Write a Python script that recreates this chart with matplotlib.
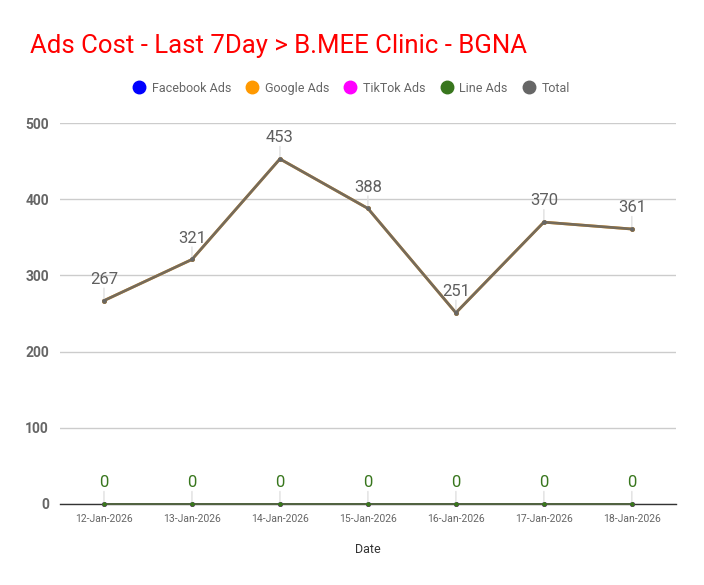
import matplotlib
matplotlib.use("Agg")
import matplotlib.pyplot as plt
from matplotlib.lines import Line2D

plt.rcParams['font.family'] = ['Roboto', 'DejaVu Sans']

dates = ["12-Jan-2026", "13-Jan-2026", "14-Jan-2026", "15-Jan-2026",
         "16-Jan-2026", "17-Jan-2026", "18-Jan-2026"]
facebook = [0, 0, 0, 0, 0, 0, 0]
google = [267, 321, 453, 388, 251, 370, 361]
tiktok = [0, 0, 0, 0, 0, 0, 0]
line_ads = [0, 0, 0, 0, 0, 0, 0]
total = [267, 321, 453, 388, 251, 370, 361]

series_names = ["Facebook Ads", "Google Ads", "TikTok Ads", "Line Ads", "Total"]
series_colors = ["#0000ff", "#ff9900", "#ff00ff", "#38761d", "#666666"]

fig = plt.figure(figsize=(7.04, 5.85), dpi=100)
ax = fig.add_axes([0.0852, 0.1385, 0.8748, 0.651])

x = list(range(len(dates)))

def leader(vals, color):
    # little grey stems + value labels above the points
    for xi, v in zip(x, vals):
        ax.annotate("", xy=(xi, v), xytext=(0, 9), textcoords="offset points",
                    arrowprops=dict(arrowstyle="-", color="#e0e0e0", lw=1,
                                    shrinkA=0, shrinkB=1))
        ax.annotate(str(v), xy=(xi, v), xytext=(0, 10), textcoords="offset points",
                    ha="center", va="bottom", fontsize=12, color=color)

ax.plot(x, facebook, color=series_colors[0], lw=1.2, marker="o", ms=2.5, zorder=3, clip_on=False)
ax.plot(x, tiktok, color=series_colors[2], lw=1.2, marker="o", ms=2.5, zorder=3, clip_on=False)
ax.plot(x, line_ads, color=series_colors[3], lw=1.2, marker="o", ms=2.5, zorder=4, clip_on=False)
ax.plot(x, google, color=series_colors[1], lw=2, marker="o", ms=2.5, zorder=3)
ax.plot(x, total, color=series_colors[4], lw=2, marker="o", ms=2.5, alpha=0.9, zorder=4)

leader(total, "#5f5f5f")
leader(line_ads, "#38761d")

ax.set_xlim(-0.5, len(dates) - 0.5)
ax.set_ylim(0, 500)
ax.set_yticks([0, 100, 200, 300, 400, 500])
ax.set_xticks(x)
ax.set_xticklabels(dates, fontsize=7.5, color="#666666")
ax.tick_params(axis="x", length=0, pad=7)
ax.tick_params(axis="y", length=0, pad=8, labelsize=10, labelcolor="#666666")
for lab in ax.get_yticklabels():
    lab.set_fontweight("bold")

ax.grid(axis="y", color="#cccccc", lw=1)
ax.set_axisbelow(True)
for s in ["top", "right", "left"]:
    ax.spines[s].set_visible(False)
ax.spines["bottom"].set_color("#333333")
ax.spines["bottom"].set_linewidth(1)

ax.set_xlabel("Date", fontsize=9, color="#333333", labelpad=14)

fig.text(0.043, 0.910, "Ads Cost - Last 7Day > B.MEE Clinic - BGNA",
         fontsize=18.5, color="#ff0000", ha="left", va="baseline")

handles = [Line2D([], [], marker="o", ls="", ms=9, color=c) for c in series_colors]
fig.legend(handles, series_names, loc="center", bbox_to_anchor=(0.499, 0.849),
           ncol=5, frameon=False, fontsize=9, labelcolor="#666666",
           handlelength=1.0, handletextpad=0.5, columnspacing=1.2)

fig.savefig("out.png", dpi=100)
